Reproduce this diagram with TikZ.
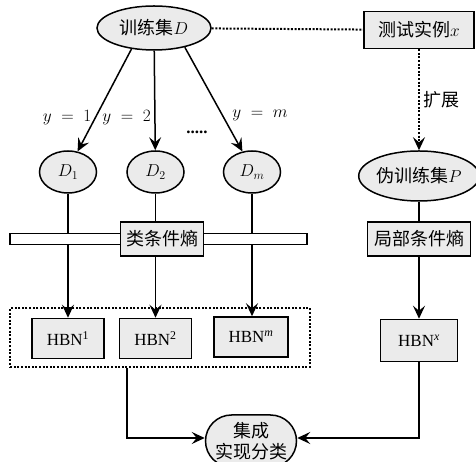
\documentclass[tikz,border=0pt]{standalone}
\usepackage{fontspec}
\setmainfont{Liberation Serif}
\newfontfamily\cjk{Noto Sans CJK SC}
\usetikzlibrary{positioning}
\usetikzlibrary{shapes.geometric}
\usetikzlibrary{shapes.misc}
\usetikzlibrary{arrows.meta}
\usetikzlibrary{fit}

\begin{document}
\begin{tikzpicture}[
  x=1pt, y=1pt,
  font=\fontsize{17}{20}\selectfont,
  ell/.style={draw, ellipse, line width=1.5pt, fill=black!8, inner sep=0pt},
  box/.style={draw, line width=1.5pt, fill=black!8, inner sep=1pt, align=center},
  arrow/.style={-{Stealth[length=13pt, width=12pt, inset=5pt]}, line width=1.5pt},
  link/.style={line width=1.5pt},
  dotline/.style={line width=2pt, dash pattern=on 2pt off 1.6pt},
  zh/.style={font=\fontsize{18}{21}\selectfont\cjk}
]
\useasboundingbox (0,0) rectangle (476,462);

\node[ell, minimum width=114pt, minimum height=44pt] (train) at (154,434) {{\cjk\fontsize{18}{21}\selectfont 训练集}$D$};
\node[box, minimum width=110pt, minimum height=37pt] (test) at (419,432) {{\cjk\fontsize{18}{21}\selectfont 测试实例}$x$};

\node[ell, minimum width=57pt, minimum height=42pt] (d1) at (68,290) {$D_1$};
\node[ell, minimum width=57pt, minimum height=42pt, right=29pt of d1] (d2) {$D_2$};
\node[ell, minimum width=57pt, minimum height=42pt, right=38pt of d2] (dm) {$D_m$};
\node[ell, minimum width=110pt, minimum height=50pt, below=101pt of test] (pseudo) {{\cjk\fontsize{18}{21}\selectfont 伪训练集}$P$};

% entropy bars
\node[draw, fill=white, line width=1.5pt, minimum width=297pt, minimum height=11pt, inner sep=0pt] (bar) at (158.5,223) {};
\node[box, zh, minimum width=83pt, minimum height=34pt] (cbox) at (162,223) {类条件熵};
\node[box, zh, minimum width=103pt, minimum height=34pt] (lbox) at (pseudo |- cbox) {局部条件熵};

\node[box, minimum width=72pt, minimum height=40pt, below=124pt of d1] (hbn1) {HBN\textsuperscript{1}};
\node[box, minimum width=72pt, minimum height=40pt, below=124pt of d2] (hbn2) {HBN\textsuperscript{2}};
\node[box, minimum width=74pt, minimum height=40pt] (hbnm) at (251,125) {HBN\textsuperscript{\itshape m}};
\node[box, minimum width=77pt, minimum height=42pt, below=117pt of pseudo] (hbnx) {HBN\textsuperscript{\itshape x}};
\node[draw, dotline, fit=(hbn1)(hbnm), inner xsep=21pt, inner ysep=8pt] (grp) {};

\node[draw, rounded rectangle, line width=1.5pt, fill=black!8, zh, align=center, minimum width=93pt, minimum height=52pt, inner sep=1pt] (ens) at (251,21) {集成\\实现分类};

% split of the training set
\draw[arrow] (train.223) -- node[pos=.67, left] {$y\;=\;1$} (d1.65);
\draw[arrow] (train) -- node[pos=.67, left] {$y\;=\;2$} (d2);
\draw[arrow] (train.328) -- node[pos=.65, right=6pt] {$y\;=\;m$} (dm.115);
\node[font=\bfseries\fontsize{17}{20}\selectfont] (dots) at (197,330) {.....};

\draw[dotline] (train) -- (test);
\draw[dotline, -{Stealth[length=13pt, width=12pt, inset=5pt]}] (test) -- node[right, zh] {扩展} (pseudo);

\draw[link] (d1) -- (d1 |- bar.north);
\draw[arrow] (d1 |- bar.south) -- (d1 |- hbn1.north);
\draw[link] (d2) -- (d2 |- cbox.north);
\draw[arrow] (d2 |- cbox.south) -- (d2 |- hbn2.north);
\draw[link] (dm) -- (dm |- bar.north);
\draw[arrow] (dm |- bar.south) -- (dm |- hbnm.north);
\draw[link] (pseudo) -- (lbox);
\draw[arrow] (lbox) -- (hbnx);

% ensemble
\draw[arrow] ([xshift=8pt]hbn2.south west |- grp.south) |- ([yshift=3pt]ens.west);
\draw[arrow] (hbnx) |- ([yshift=3pt]ens.east);
\end{tikzpicture}
\end{document}
